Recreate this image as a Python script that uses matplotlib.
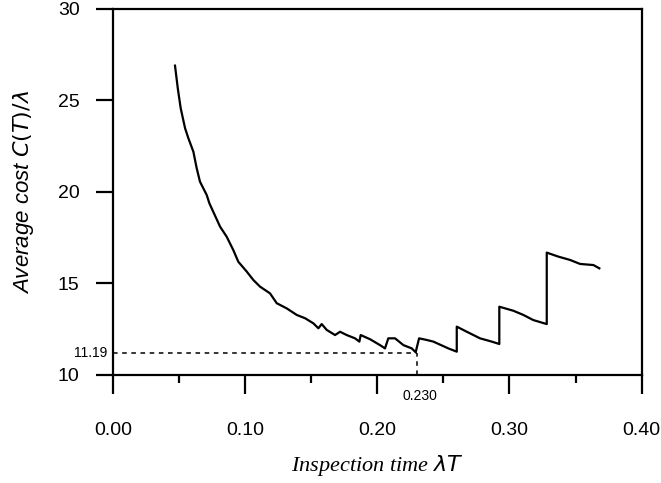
import matplotlib.pyplot as plt
from matplotlib.ticker import MultipleLocator

# values
lam_T = [0.0469, 0.0490, 0.0512, 0.0545, 0.0570, 0.0608, 0.0633, 0.0658, 0.0709, 0.0729,
         0.0810, 0.0860, 0.0910, 0.0948, 0.1012, 0.1062, 0.1112, 0.1188, 0.1239, 0.1314,
         0.1390, 0.1453, 0.1516, 0.1554, 0.1579, 0.1617, 0.1680, 0.1718, 0.1768, 0.1831,
         0.1864, 0.1874, 0.1945, 0.2020, 0.2058, 0.2083, 0.2134, 0.2197, 0.2260, 0.2290,
         0.2316, 0.2374, 0.2424, 0.2537, 0.2601, 0.2601, 0.2677, 0.2777, 0.2866, 0.2923,
         0.2923, 0.3029, 0.3105, 0.3180, 0.3282, 0.3282, 0.3370, 0.3458, 0.3534, 0.3635,
         0.3680]
avg_cost = [26.90, 25.66, 24.57, 23.48, 22.93, 22.19, 21.29, 20.55, 19.82, 19.37,
            18.09, 17.54, 16.81, 16.17, 15.63, 15.17, 14.81, 14.44, 13.90, 13.62,
            13.26, 13.08, 12.80, 12.53, 12.76, 12.44, 12.16, 12.34, 12.16, 11.98,
            11.80, 12.16, 11.93, 11.61, 11.43, 11.98, 11.98, 11.61, 11.43, 11.22,
            11.98, 11.89, 11.80, 11.43, 11.25, 12.62, 12.34, 11.98, 11.80, 11.67,
            13.71, 13.49, 13.26, 12.98, 12.76, 16.67, 16.45, 16.27, 16.05, 15.99,
            15.81]

opt_T = 0.230
opt_cost = 11.19
x_ticks = [0.0, 0.1, 0.2, 0.3, 0.4]
x_tick_labels = ["0.00", "0.10", "0.20", "0.30", "0.40"]
y_ticks = [10, 15, 20, 25, 30]

fig = plt.figure(figsize=(6.61, 4.83), dpi=100)
ax = fig.add_axes([0.171, 0.2246, 0.7997, 0.7568])

ax.plot(lam_T, avg_cost, color="black", lw=1.6)

# optimum markers
ax.plot([0, opt_T], [opt_cost, opt_cost], color="black", lw=1.1, ls=(0, (3, 3)))
ax.plot([opt_T, opt_T], [10, opt_cost], color="black", lw=1.1, ls=(0, (3, 3)))
ax.text(-0.004, opt_cost, "11.19", ha="right", va="center", fontsize=10,
        family="Liberation Sans", clip_on=False)
ax.text(opt_T + 0.002, 8.8, "0.230", ha="center", va="center", fontsize=10,
        family="Liberation Sans", clip_on=False)

ax.set_xlim(0, 0.4)
ax.set_ylim(10, 30)
ax.set_xticks(x_ticks)
ax.set_xticklabels(x_tick_labels)
ax.xaxis.set_minor_locator(MultipleLocator(0.05))
ax.set_yticks(y_ticks)

for s in ax.spines.values():
    s.set_linewidth(1.6)

ax.tick_params(axis="x", which="major", direction="out", length=14, width=1.6,
               pad=20, labelsize=14)
ax.tick_params(axis="x", which="minor", direction="out", length=6, width=1.6)
ax.tick_params(axis="y", which="major", direction="out", length=12, width=1.6,
               pad=12, labelsize=14)
for lbl in ax.get_xticklabels() + ax.get_yticklabels():
    lbl.set_family("Liberation Sans")

ax.set_xlabel(r"Inspection time $\lambda T$", fontsize=16, family="Liberation Serif",
              style="italic", labelpad=10)
ax.set_ylabel(r"Average cost $C(T)/\lambda$", fontsize=16, family="Liberation Sans",
              style="italic", labelpad=16)

fig.savefig("out.png", dpi=100)
